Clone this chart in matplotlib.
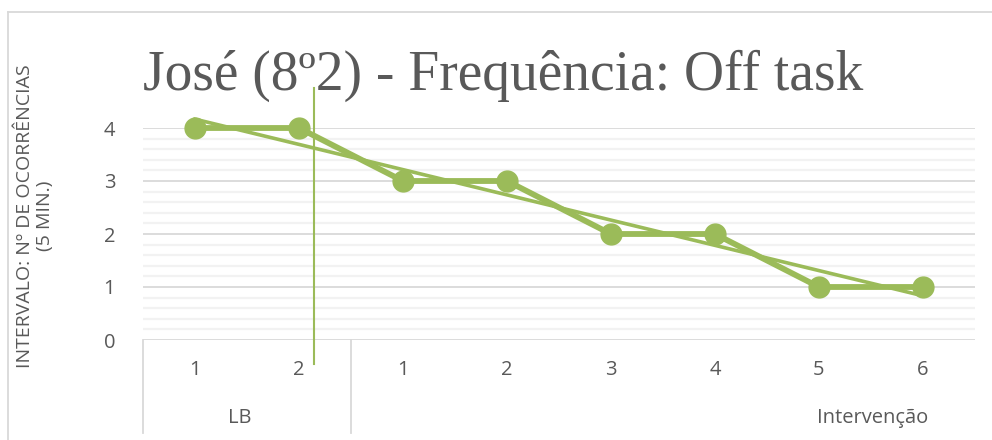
import matplotlib
matplotlib.use("Agg")
import matplotlib.pyplot as plt
from matplotlib.lines import Line2D
import numpy as np

# data
sessions = ["1", "2", "1", "2", "3", "4", "5", "6"]
phases = ["LB", "Intervenção"]
phase_sizes = [2, 6]
ocorrencias = [4, 4, 3, 3, 2, 2, 1, 1]

title = "José (8º2) - Frequência: Off task"
ylabel = "INTERVALO: Nº DE OCORRÊNCIAS\n(5 MIN.)"

green = "#9BBB59"
txt = "#595959"
W, H = 992, 440

fig = plt.figure(figsize=(W / 100, H / 100), dpi=100)
ax = fig.add_axes([143 / W, 1 - 340 / H, (975 - 143) / W, (340 - 128) / H])

x = np.arange(len(ocorrencias)) + 0.5
ax.set_xlim(0, len(ocorrencias))
ax.set_ylim(0, 4)

# gridlines
for v in np.arange(0, 4.01, 0.2):
    major = abs(v - round(v)) < 1e-6
    ax.axhline(v, color="#D9D9D9" if major else "#F2F2F2", lw=1.3 if major else 1.6, zorder=0)

# linear trendline
k, b = np.polyfit(x, ocorrencias, 1)
ax.plot(x, k * x + b, color=green, lw=2.6, zorder=2, clip_on=False)
ax.plot(x, ocorrencias, color=green, lw=4.2, marker="o", ms=15, zorder=3, clip_on=False)

ax.set_yticks(range(0, 5))
ax.set_xticks([])
ax.tick_params(axis="y", length=0, pad=20, labelsize=14.5, labelcolor=txt)
for lab in ax.get_yticklabels():
    lab.set_fontfamily("Open Sans")
for s in ax.spines.values():
    s.set_visible(False)

# multi-level category axis
for xi, s in zip(x, sessions):
    ax.text(xi, -30 / 53, s, ha="center", va="center", fontsize=14.5, color=txt,
            family="Open Sans", clip_on=False)
edges = np.concatenate([[0], np.cumsum(phase_sizes)[:-1]])
for e in edges:
    ax.plot([e, e], [0, -93 / 53], color="#D9D9D9", lw=1.3, clip_on=False)
ax.text(0.93, -78 / 53, phases[0], ha="center", va="center", fontsize=14.5, color=txt,
        family="Open Sans", clip_on=False)
ax.text(7.02, -78 / 53, phases[1], ha="center", va="center", fontsize=14.5, color=txt,
        family="Open Sans", clip_on=False)

# phase change line
ax.plot([1.644, 1.644], [-24 / 53, 252 / 53], color=green, lw=1.5, clip_on=False, zorder=4)

fig.text(143 / W, 1 - 90 / H, title, ha="left", va="baseline", fontsize=40,
         color=txt, family="Liberation Serif")
fig.text(35 / W, 1 - 216 / H, ylabel, ha="center", va="center", rotation=90,
         fontsize=14, color=txt, family="Open Sans", linespacing=1.2)

# chart border
fig.add_artist(Line2D([8 / W, 1], [1 - 12 / H, 1 - 12 / H], color="#D9D9D9", lw=1.3))
fig.add_artist(Line2D([8 / W, 8 / W], [1 - 12 / H, 0], color="#D9D9D9", lw=1.3))

fig.savefig("out.png", dpi=100)
